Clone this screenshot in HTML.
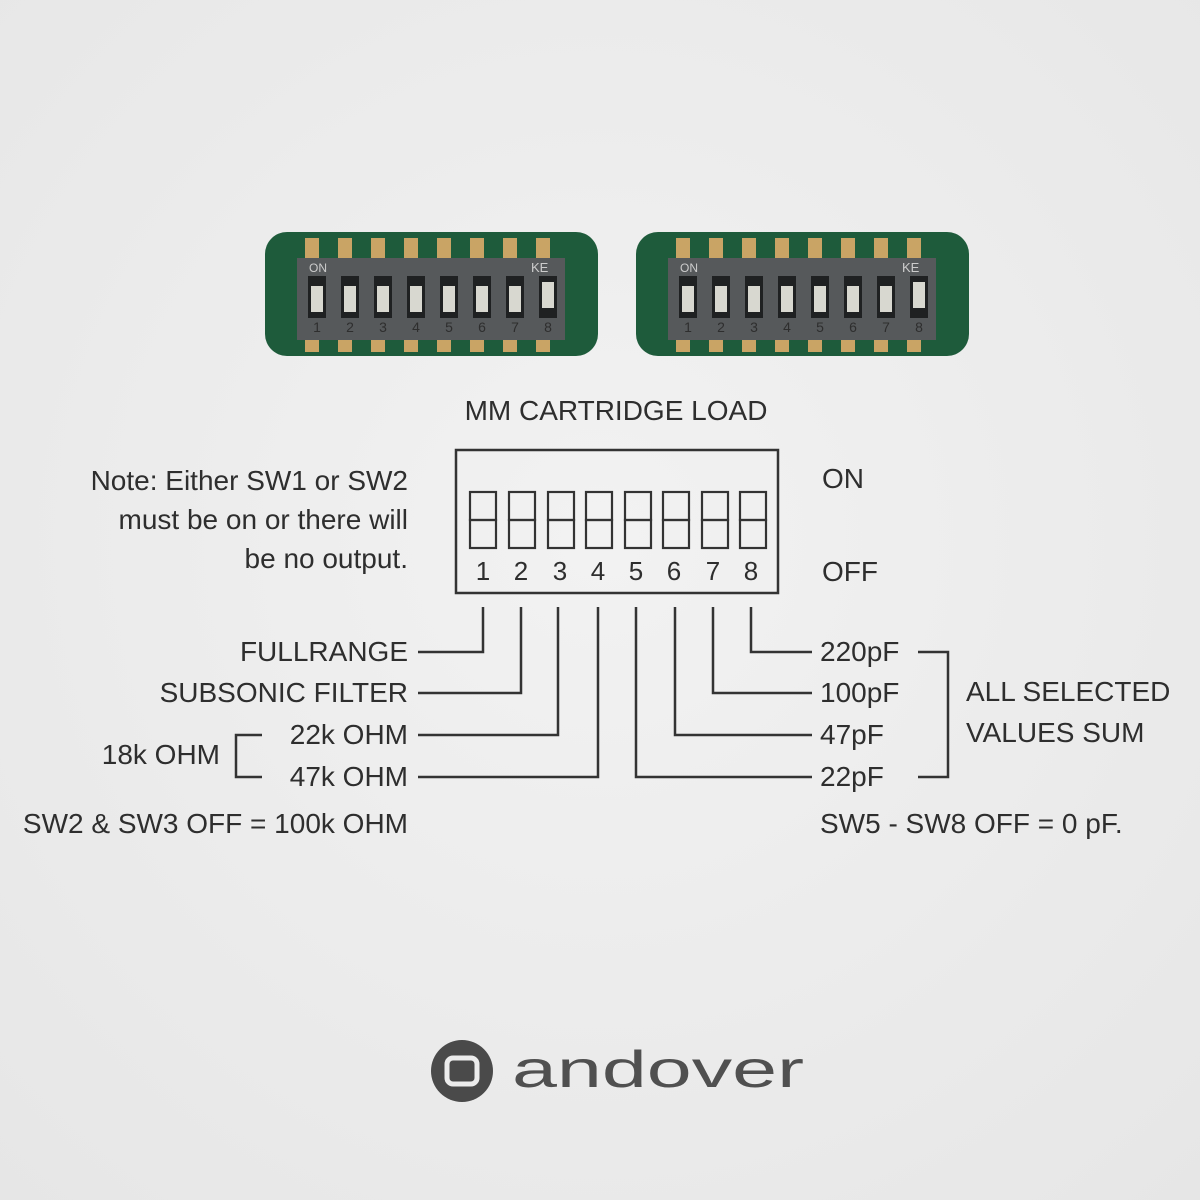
<!DOCTYPE html>
<html><head><style>
html,body{margin:0;padding:0;width:1200px;height:1200px;overflow:hidden;background:#ececec}
svg text{font-family:"Liberation Sans",sans-serif;fill:#2e2e2e}
</style></head><body>
<svg width="1200" height="1200" xmlns="http://www.w3.org/2000/svg">
<defs>
<radialGradient id="bg" cx="50%" cy="45%" r="75%"><stop offset="0" stop-color="#f2f2f2"/><stop offset="1" stop-color="#e6e6e6"/></radialGradient>
<g id="pcb">
<rect x="0" y="0" width="333" height="124" rx="22" fill="#1e5b3b"/>
<g fill="#c9a465">
<rect x="40" y="6" width="14" height="22"/><rect x="73" y="6" width="14" height="22"/><rect x="106" y="6" width="14" height="22"/><rect x="139" y="6" width="14" height="22"/><rect x="172" y="6" width="14" height="22"/><rect x="205" y="6" width="14" height="22"/><rect x="238" y="6" width="14" height="22"/><rect x="271" y="6" width="14" height="22"/>
<rect x="40" y="100" width="14" height="20"/><rect x="73" y="100" width="14" height="20"/><rect x="106" y="100" width="14" height="20"/><rect x="139" y="100" width="14" height="20"/><rect x="172" y="100" width="14" height="20"/><rect x="205" y="100" width="14" height="20"/><rect x="238" y="100" width="14" height="20"/><rect x="271" y="100" width="14" height="20"/>
</g>
<rect x="32" y="26" width="268" height="82" fill="#56595b"/>
<g fill="#1f2122">
<rect x="43" y="44" width="18" height="42"/><rect x="76" y="44" width="18" height="42"/><rect x="109" y="44" width="18" height="42"/><rect x="142" y="44" width="18" height="42"/><rect x="175" y="44" width="18" height="42"/><rect x="208" y="44" width="18" height="42"/><rect x="241" y="44" width="18" height="42"/><rect x="274" y="44" width="18" height="42"/>
</g>
<g fill="#d8d8d0">
<rect x="46" y="54" width="12" height="26"/><rect x="79" y="54" width="12" height="26"/><rect x="112" y="54" width="12" height="26"/><rect x="145" y="54" width="12" height="26"/><rect x="178" y="54" width="12" height="26"/><rect x="211" y="54" width="12" height="26"/><rect x="244" y="54" width="12" height="26"/><rect x="277" y="50" width="12" height="26"/>
</g>
<text x="44" y="40" font-size="12" style="fill:#ccc">ON</text>
<text x="266" y="40" font-size="13" style="fill:#ccc">KE</text>
<g font-size="14" style="fill:#ccc" text-anchor="middle">
<text x="52" y="100">1</text><text x="85" y="100">2</text><text x="118" y="100">3</text><text x="151" y="100">4</text><text x="184" y="100">5</text><text x="217" y="100">6</text><text x="250" y="100">7</text><text x="283" y="100">8</text>
</g>
</g>
</defs>
<rect width="1200" height="1200" fill="url(#bg)"/>
<use href="#pcb" x="265" y="232"/>
<use href="#pcb" x="636" y="232"/>

<text x="616" y="420" font-size="28" text-anchor="middle">MM CARTRIDGE LOAD</text>
<g fill="none" stroke="#333" stroke-width="2.5">
<rect x="456" y="450" width="322" height="143"/>
<g stroke-width="2.2">
<rect x="470" y="492" width="26" height="28"/><rect x="470" y="520" width="26" height="28"/>
<rect x="509" y="492" width="26" height="28"/><rect x="509" y="520" width="26" height="28"/>
<rect x="548" y="492" width="26" height="28"/><rect x="548" y="520" width="26" height="28"/>
<rect x="586" y="492" width="26" height="28"/><rect x="586" y="520" width="26" height="28"/>
<rect x="625" y="492" width="26" height="28"/><rect x="625" y="520" width="26" height="28"/>
<rect x="663" y="492" width="26" height="28"/><rect x="663" y="520" width="26" height="28"/>
<rect x="702" y="492" width="26" height="28"/><rect x="702" y="520" width="26" height="28"/>
<rect x="740" y="492" width="26" height="28"/><rect x="740" y="520" width="26" height="28"/>
</g>
<polyline points="483,607 483,652 418,652"/>
<polyline points="521,607 521,693 418,693"/>
<polyline points="558,607 558,735 418,735"/>
<polyline points="598,607 598,777 418,777"/>
<polyline points="636,607 636,777 812,777"/>
<polyline points="675,607 675,735 812,735"/>
<polyline points="713,607 713,693 812,693"/>
<polyline points="751,607 751,652 812,652"/>
<polyline points="918,652 948,652 948,777 918,777"/>
<polyline points="262,735 236,735 236,777 262,777"/>
</g>
<g font-size="26" text-anchor="middle">
<text x="483" y="580">1</text><text x="521" y="580">2</text><text x="560" y="580">3</text><text x="598" y="580">4</text><text x="636" y="580">5</text><text x="674" y="580">6</text><text x="713" y="580">7</text><text x="751" y="580">8</text>
</g>
<g font-size="28">
<text x="822" y="488">ON</text>
<text x="822" y="581">OFF</text>
<text x="820" y="661">220pF</text>
<text x="820" y="702">100pF</text>
<text x="820" y="744">47pF</text>
<text x="820" y="786">22pF</text>
<text x="966" y="701">ALL SELECTED</text>
<text x="966" y="742">VALUES SUM</text>
<text x="820" y="833">SW5 - SW8 OFF = 0 pF.</text>
</g>
<g font-size="28" text-anchor="end">
<text x="408" y="490">Note: Either SW1 or SW2</text>
<text x="408" y="529">must be on or there will</text>
<text x="408" y="568">be no output.</text>
<text x="408" y="661">FULLRANGE</text>
<text x="408" y="702">SUBSONIC FILTER</text>
<text x="408" y="744">22k OHM</text>
<text x="408" y="786">47k OHM</text>
<text x="220" y="764">18k OHM</text>
<text x="408" y="833">SW2 &amp; SW3 OFF = 100k OHM</text>
</g>
<circle cx="462" cy="1071" r="31" fill="#4a4a4a"/>
<rect x="447" y="1058" width="30" height="26" rx="6" fill="none" stroke="#ececec" stroke-width="5"/>
<text x="512" y="1087" font-size="52" textLength="292" lengthAdjust="spacingAndGlyphs" style="fill:#505050">andover</text>
</svg>
</body></html>
